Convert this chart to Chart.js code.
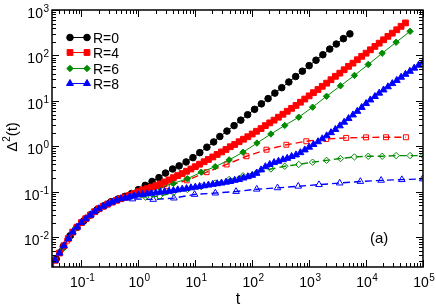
<!DOCTYPE html>
<html>
<head>
<meta charset="utf-8">
<script src="https://cdn.jsdelivr.net/npm/chart.js@4.4.1/dist/chart.umd.min.js"></script>
<style>
  html, body { margin: 0; padding: 0; background: #fff; }
  #wrap { width: 436px; height: 307px; position: relative; }
</style>
</head>
<body>
<div id="wrap"><canvas id="c"></canvas></div>
<script>
// ── data ───────────────────────────────────────────────────────────────────
// dense time grid shared by R=4 and R=8 (filled markers)
const tFine = [
  0.0289, 0.0346, 0.0412, 0.0492, 0.0588, 0.0702, 0.0838,
  0.1, 0.119, 0.143, 0.17, 0.203, 0.242, 0.289, 0.346, 0.412, 0.492, 0.588, 0.702, 0.838,
  1, 1.19, 1.43, 1.7, 2.03, 2.42, 2.89, 3.46, 4.12, 4.92, 5.88, 7.02, 8.38,
  10, 11.9, 14.3, 17, 20.3, 24.2, 28.9, 34.6, 41.2, 49.2, 58.8, 70.2, 83.8,
  100, 119, 143, 170, 203, 242, 289, 346, 412, 492, 588, 702, 838,
  1000, 1190, 1430, 1700, 2030, 2420, 2890, 3460, 4120, 4920, 5880, 7020, 8380,
  10000, 11900, 14300, 17000, 20300, 24200, 28900, 34600, 41200, 49200, 58800, 70200, 83800,
  100000
];
const yR4 = [
  0.00224, 0.00309, 0.00447, 0.00646, 0.00933, 0.0129, 0.0166,
  0.0209, 0.0254, 0.0305, 0.0363, 0.0422, 0.0479, 0.0537, 0.0589, 0.0646, 0.0700, 0.0759, 0.0832, 0.0912,
  0.100, 0.110, 0.117, 0.126, 0.136, 0.148, 0.164, 0.182, 0.204, 0.226, 0.251, 0.282, 0.316,
  0.355, 0.403, 0.457, 0.513, 0.582, 0.661, 0.750, 0.851, 0.977, 1.096, 1.259, 1.429, 1.622,
  1.862, 2.138, 2.455, 2.851, 3.273, 3.758, 4.365, 5.07, 5.89, 6.84, 7.94, 9.33, 10.96,
  12.88, 15.14, 17.78, 20.9, 24.5, 29.2, 34.7, 40.7, 48.4, 57.5, 67.6, 80.4, 95.5,
  112, 133, 158, 186, 221, 263, 309, 367, 437, 519
];
const yR8 = [
  0.00224, 0.00309, 0.00447, 0.00646, 0.00933, 0.0129, 0.0166,
  0.0209, 0.0254, 0.0305, 0.0363, 0.0422, 0.0479, 0.0537, 0.0589, 0.0646, 0.0700, 0.0724, 0.0776, 0.0813,
  0.0851, 0.0871, 0.0902, 0.0923, 0.0944, 0.0977, 0.100, 0.102, 0.106, 0.110, 0.1135, 0.117, 0.122,
  0.126, 0.130, 0.135, 0.140, 0.145, 0.150, 0.155, 0.162, 0.168, 0.178, 0.186, 0.200, 0.214,
  0.229, 0.254, 0.302, 0.355, 0.398, 0.437, 0.468, 0.507, 0.543, 0.596, 0.646, 0.724, 0.832,
  0.955, 1.096, 1.259, 1.462, 1.698, 1.995, 2.344, 2.818, 3.388, 4.074, 4.898, 5.888, 7.16,
  8.71, 10.47, 12.45, 14.79, 17.38, 20.4, 24.0, 28.2, 33.1, 38.5, 44.7, 52.5, 61.0,
  70.8
];

// R=0
const tR0 = [0.036, 0.048, 0.063, 0.083, 0.11, 0.145, 0.19, 0.25, 0.33, 0.44, 0.58, 0.76,
  1.0, 1.32, 1.74, 2.3, 3.0, 4.0, 5.2, 6.9, 9.1, 12, 16, 21, 27, 36, 48, 63, 83,
  110, 145, 190, 250, 330, 440, 580, 760, 1000, 1320, 1740, 2300, 3000, 4000, 5200];
const yR0 = [0.0033, 0.0062, 0.0107, 0.0164, 0.0229, 0.0309, 0.0407, 0.049, 0.060, 0.069, 0.079, 0.091,
  0.111, 0.138, 0.168, 0.204, 0.257, 0.316, 0.37, 0.452, 0.562, 0.724, 0.955, 1.245, 1.64, 2.16, 2.85, 3.76, 4.95,
  6.5, 8.6, 11.2, 14.8, 19.5, 26, 34.3, 45, 59.6, 78.5, 103.5, 138, 178, 234, 298];

// R=6 (filled diamonds)
const tR6 = [0.0457, 0.0802, 0.141, 0.247, 0.435, 0.762, 1.34, 2.35, 4.13, 7.26, 12.7, 22.4, 39.3,
  69.0, 121, 213, 373, 656, 1150, 2020, 3550, 6240, 10900, 19200, 33700, 59300];
const yR6 = [0.00537, 0.0160, 0.0302, 0.0484, 0.0661, 0.0832, 0.102, 0.123, 0.153, 0.193, 0.269, 0.355, 0.501,
  0.741, 1.175, 1.86, 2.88, 4.37, 7.26, 12.6, 21.4, 36.3, 63.1, 112, 195, 339];

// open-symbol dashed curves
const tR4open = [0.0562, 0.126, 0.282, 0.631, 1.41, 3.16, 7.08, 15.8, 35.5, 79.4, 178, 398, 891,
  2000, 4470, 10000, 22400, 50100];
const yR4open = [0.0084, 0.0269, 0.0519, 0.0776, 0.105, 0.132, 0.178, 0.269, 0.398, 0.603, 0.841, 1.08, 1.29,
  1.45, 1.53, 1.57, 1.58, 1.58];
const tR6open = [0.0457, 0.0802, 0.141, 0.247, 0.435, 0.762, 1.34, 2.35, 4.13, 7.26, 12.7, 22.4, 39.3,
  69.0, 121, 213, 373, 656, 1150, 2020, 3550, 6240, 10900, 19200, 33700, 59300, 100000];
const yR6open = [0.00537, 0.0160, 0.0302, 0.0484, 0.0661, 0.0794, 0.0759, 0.0794, 0.0955, 0.112, 0.129, 0.155, 0.186,
  0.224, 0.269, 0.316, 0.363, 0.398, 0.447, 0.490, 0.537, 0.582, 0.603, 0.603, 0.624, 0.624, 0.624];
const tR8open = [0.0637, 0.147, 0.34, 0.787, 1.82, 4.21, 9.72, 22.5, 52, 120, 278, 643, 1490,
  3440, 7940, 18400, 42500, 98200];
const yR8open = [0.01084, 0.0316, 0.0589, 0.0692, 0.0676, 0.0724, 0.0871, 0.0933, 0.101, 0.1135, 0.1216, 0.1318, 0.143,
  0.155, 0.168, 0.178, 0.184, 0.191];

const legendLabels = ['R=0', 'R=4', 'R=6', 'R=8'];
const xTickExps = ['-1', '0', '1', '2', '3', '4', '5'];
const yTickExps = ['-2', '-1', '0', '1', '2', '3'];

// ── styling ───────────────────────────────────────────────────────────────
const FONT = '"Liberation Sans", Arial, Helvetica, sans-serif';
const BLACK = '#000000', RED = '#ff0000', GREEN = '#008b00', BLUE = '#0000ff';

function pts(ts, vs) { return vs.map((v, i) => ({ x: ts[i], y: v })); }

function solid(label, ts, vs, color, style, r, order) {
  return {
    label: label, data: pts(ts, vs), showLine: true, order: order,
    borderColor: color, backgroundColor: color, borderWidth: 1,
    pointStyle: style, pointRadius: r, pointBorderWidth: 1,
    pointBackgroundColor: color, pointBorderColor: color
  };
}
function dashed(label, ts, vs, color, style, r, order) {
  return {
    label: label, data: pts(ts, vs), showLine: true, order: order,
    borderColor: color, backgroundColor: 'transparent', borderWidth: 1.4, borderDash: [7, 4],
    pointStyle: style, pointRadius: r, pointBorderWidth: 1,
    pointBackgroundColor: 'transparent', pointBorderColor: color
  };
}

const datasets = [
  solid('R=0', tR0, yR0, BLACK, 'circle', 3.3, 4),
  solid('R=4', tFine, yR4, RED, 'rect', 4.1, 2),
  solid('R=6', tR6, yR6, GREEN, 'rectRot', 3.2, 3),
  solid('R=8', tFine, yR8, BLUE, 'triangle', 4.0, 1),
  dashed('R=4 open', tR4open, yR4open, RED, 'rect', 3.5, 5),
  dashed('R=6 open', tR6open, yR6open, GREEN, 'rectRot', 3.2, 6),
  dashed('R=8 open', tR8open, yR8open, BLUE, 'triangle', 3.8, 7)
];

// ── axes, labels and legend drawn through the chart's own scales ────────────
function drawPow(ctx, exp, x, y, align) {
  ctx.font = '14px ' + FONT;
  const wb = ctx.measureText('10').width;
  ctx.font = '10px ' + FONT;
  const we = ctx.measureText(exp).width;
  const w = wb + we + 0.5;
  const x0 = align === 'right' ? x - w : x - w / 2;
  ctx.textAlign = 'left';
  ctx.textBaseline = 'alphabetic';
  ctx.font = '14px ' + FONT;
  ctx.fillText('10', x0, y);
  ctx.font = '10px ' + FONT;
  ctx.fillText(exp, x0 + wb + 0.5, y - 6);
}

const framePlugin = {
  id: 'frame',
  afterDraw(chart) {
    const { ctx, chartArea: a } = chart;
    const xs = chart.scales.x, ys = chart.scales.y;
    ctx.save();
    ctx.fillStyle = '#000';
    ctx.strokeStyle = '#000';

    // ticks (inward, all four sides)
    ctx.lineWidth = 1;
    ctx.beginPath();
    for (let e = -3; e <= 5; e++) {
      for (let m = 1; m < 10; m++) {
        const v = m * Math.pow(10, e);
        const len = m === 1 ? 7 : 4;
        if (v >= xs.min * 0.999 && v <= xs.max * 1.001) {
          const px = Math.round(xs.getPixelForValue(v)) + 0.5;
          ctx.moveTo(px, a.bottom); ctx.lineTo(px, a.bottom - len);
          ctx.moveTo(px, a.top); ctx.lineTo(px, a.top + len);
        }
        if (v >= ys.min * 0.999 && v <= ys.max * 1.001) {
          const py = Math.round(ys.getPixelForValue(v)) + 0.5;
          ctx.moveTo(a.left, py); ctx.lineTo(a.left + len, py);
          ctx.moveTo(a.right, py); ctx.lineTo(a.right - len, py);
        }
      }
    }
    ctx.stroke();

    ctx.lineWidth = 1.5;
    ctx.strokeRect(a.left, a.top, a.right - a.left, a.bottom - a.top);

    // tick labels
    xTickExps.forEach(ex => {
      const px = xs.getPixelForValue(Math.pow(10, +ex));
      drawPow(ctx, ex, px + 1, a.bottom + 20, 'center');
    });
    yTickExps.forEach(ex => {
      const py = ys.getPixelForValue(Math.pow(10, +ex));
      drawPow(ctx, ex, 49, py + 8, 'right');
    });

    // axis titles
    ctx.textAlign = 'center';
    ctx.font = '16px ' + FONT;
    ctx.fillText('t', (a.left + a.right) / 2 + 0.5, 304);

    ctx.save();
    ctx.translate(17, 137);
    ctx.rotate(-Math.PI / 2);
    ctx.textAlign = 'left';
    ctx.font = '15px ' + FONT;
    const wD = ctx.measureText('\u0394').width;
    ctx.font = '10px ' + FONT;
    const w2 = ctx.measureText('2').width;
    ctx.font = '15px ' + FONT;
    const wT = ctx.measureText('(t)').width;
    let x0 = -(wD + w2 + wT) / 2;
    ctx.fillText('\u0394', x0, 0);
    ctx.font = '10px ' + FONT;
    ctx.fillText('2', x0 + wD, -7);
    ctx.font = '15px ' + FONT;
    ctx.fillText('(t)', x0 + wD + w2, 0);
    ctx.restore();

    // panel tag
    ctx.textAlign = 'left';
    ctx.font = '15px ' + FONT;
    ctx.fillText('(a)', 370, 243);

    // legend
    const rows = [37.5, 52.5, 68.5, 83.5];
    legendLabels.forEach((lab, i) => {
      const ds = chart.data.datasets[i];
      const y = rows[i];
      ctx.strokeStyle = ds.borderColor;
      ctx.lineWidth = 1;
      ctx.setLineDash([]);
      ctx.beginPath(); ctx.moveTo(70, y); ctx.lineTo(87, y); ctx.stroke();
      ctx.fillStyle = ds.pointBackgroundColor;
      const opts = { pointStyle: ds.pointStyle, radius: ds.pointRadius, borderWidth: 1, rotation: 0 };
      [70, 87].forEach(px => Chart.helpers.drawPoint(ctx, opts, px, y));
      ctx.fillStyle = '#000';
      ctx.font = '14px ' + FONT;
      ctx.fillText(lab, 93, y + 5);
    });
    ctx.restore();
  }
};

new Chart(document.getElementById('c'), {
  type: 'scatter',
  data: { datasets: datasets },
  options: {
    responsive: true,
    maintainAspectRatio: false,
    animation: false,
    layout: { padding: { left: 52, right: 13, top: 10, bottom: 40 } },
    plugins: { legend: { display: false }, tooltip: { enabled: false } },
    scales: {
      x: { type: 'logarithmic', display: false, min: 0.0304, max: 100000 },
      y: { type: 'logarithmic', display: false, min: 0.0022, max: 1000 }
    }
  },
  plugins: [framePlugin]
});
</script>
</body>
</html>
